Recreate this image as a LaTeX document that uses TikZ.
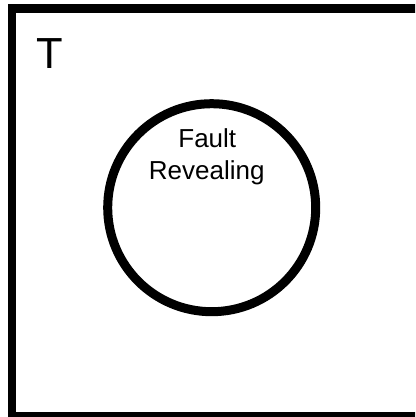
\documentclass[tikz,border=0pt]{standalone}
\usepackage{fontspec}
\setmainfont{Liberation Sans}
\begin{document}
\begin{tikzpicture}[x=1pt,y=-1pt,
  frame/.style={draw=black,line width=8.5pt},
  setcircle/.style={draw=black,line width=9pt},
  lbl/.style={anchor=base,inner sep=0pt,font=\fontsize{26}{32}\selectfont},
  biglbl/.style={anchor=base,inner sep=0pt,font=\fontsize{43.5}{50}\selectfont}]
\useasboundingbox (0,0) rectangle (415,417);
\clip (0,0) rectangle (415,417);
\draw[frame] (12,8.3) rectangle (425,416);
\node[biglbl] (t) at (50,69) {T};
\draw[setcircle] (211.7,207.7) circle (104);
\node[lbl] (fault) at (207.3,147) {Fault};
\node[lbl] (revealing) at (206.7,179.3) {Revealing};
\end{tikzpicture}
\end{document}
